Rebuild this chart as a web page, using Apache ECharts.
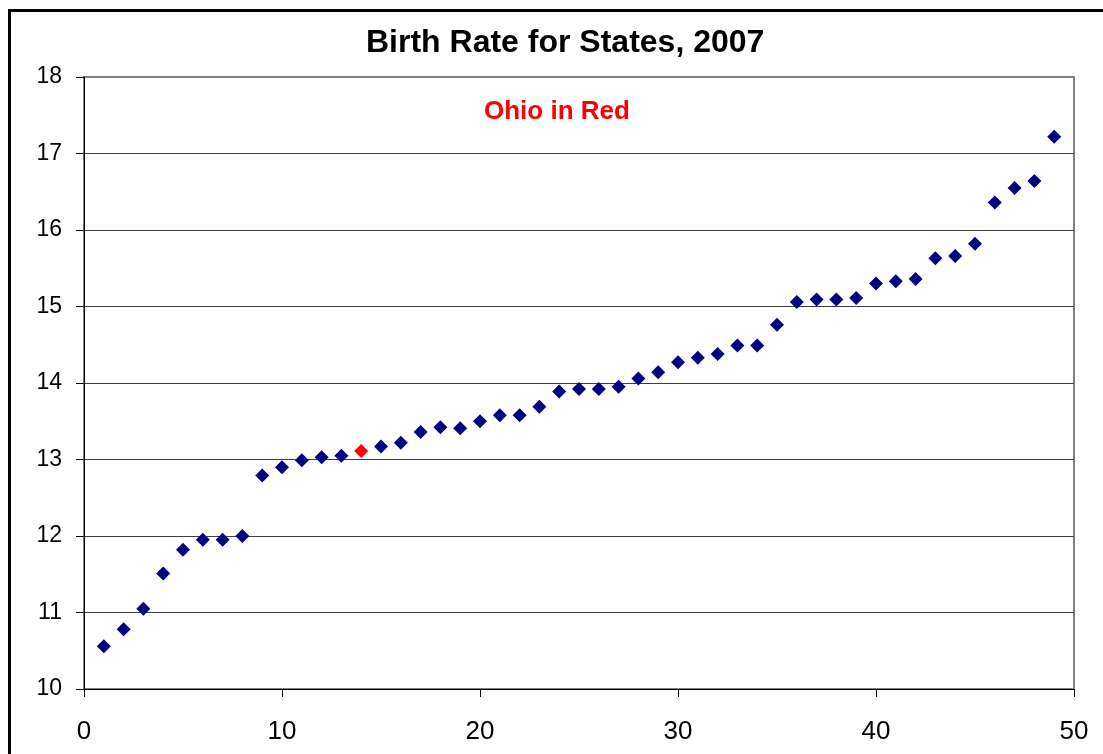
<!DOCTYPE html>
<html>
<head>
<meta charset="utf-8">
<script src="https://cdn.jsdelivr.net/npm/echarts@6/dist/echarts.min.js"></script>
<style>
  html, body { margin: 0; padding: 0; background: #fff; }
  #chart { width: 1103px; height: 754px; }
</style>
</head>
<body>
<div id="chart"></div>
<script>
// states ranked by birth rate (rank on x, rate on y)
const ranks = [];
for (let i = 1; i <= 49; i++) ranks.push(i);
const birthRate = [10.56, 10.78, 11.05, 11.51, 11.82, 11.95, 11.95, 12.0, 12.79, 12.9,
  12.99, 13.03, 13.05, 13.11, 13.17, 13.22, 13.36, 13.42, 13.41, 13.5,
  13.58, 13.58, 13.69, 13.89, 13.92, 13.92, 13.95, 14.06, 14.14, 14.27,
  14.33, 14.38, 14.49, 14.49, 14.76, 15.06, 15.09, 15.09, 15.11, 15.3,
  15.33, 15.36, 15.63, 15.66, 15.82, 16.36, 16.55, 16.64, 17.22];
const ohioRank = 14;
const xTicks = [0, 50, 10];   // min, max, step
const yTicks = [10, 18, 1];

let others = [];
let ohio = [];
for (let i = 0; i < ranks.length; i++) {
  if (ranks[i] == ohioRank) ohio.push([ranks[i], birthRate[i]]);
  else others.push([ranks[i], birthRate[i]]);
}

let chart = echarts.init(document.getElementById('chart'));
let option = {
  backgroundColor: '#fff',
  animation: false,
  title: [
    {
      text: 'Birth Rate for States, 2007',
      left: 366, top: 27, padding: 0,
      textStyle: { fontFamily: 'Liberation Sans', fontSize: 32, fontWeight: 'bold', color: '#000' }
    },
    {
      text: 'Ohio in Red',
      left: 484, top: 99, padding: 0,
      textStyle: { fontFamily: 'Liberation Sans', fontSize: 26, fontWeight: 'bold', color: '#ff0000' }
    }
  ],
  graphic: [{
    type: 'rect',
    shape: { x: 9.5, y: 10.5, width: 1200, height: 800 },
    style: { fill: null, stroke: '#000', lineWidth: 3 },
    z: 100
  }],
  grid: {
    left: 84, right: 29, top: 77, bottom: 65,
    show: true, borderColor: '#808080', borderWidth: 2
  },
  xAxis: {
    type: 'value', min: xTicks[0], max: xTicks[1], interval: xTicks[2],
    axisLine: { onZero: false, lineStyle: { color: '#000', width: 1 } },
    axisTick: { show: true, inside: false, length: 8, lineStyle: { color: '#000' } },
    axisLabel: { fontFamily: 'Liberation Sans', fontSize: 26, color: '#000', margin: 30 },
    splitLine: { show: false }
  },
  yAxis: {
    type: 'value', min: yTicks[0], max: yTicks[1], interval: yTicks[2],
    axisLine: { show: true, lineStyle: { color: '#000', width: 1 } },
    axisTick: { show: true, inside: false, length: 8, lineStyle: { color: '#000' } },
    axisLabel: { fontFamily: 'Liberation Sans', fontSize: 23, color: '#000', margin: 22 },
    splitLine: { show: true, showMaxLine: false, lineStyle: { color: '#404040', width: 1 } }
  },
  series: [
    {
      type: 'scatter', symbol: 'diamond', symbolSize: 14,
      itemStyle: { color: '#000080', opacity: 1 },
      data: others
    },
    {
      type: 'scatter', symbol: 'diamond', symbolSize: 14,
      itemStyle: { color: '#ff0000', opacity: 1 },
      data: ohio
    }
  ]
};
chart.setOption(option);
</script>
</body>
</html>
